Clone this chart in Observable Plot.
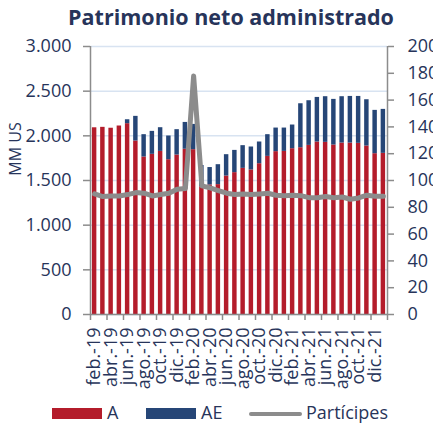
<!DOCTYPE html>
<html><head><meta charset="utf-8">
<script src="https://cdn.jsdelivr.net/npm/d3@7"></script>
<script src="https://cdn.jsdelivr.net/npm/@observablehq/plot@0.6"></script>
<style>
body{margin:0;background:#fff;font-family:"Open Sans",sans-serif;color:#27345a;}
#wrap{position:relative;width:433px;height:427px;overflow:hidden;}
#chart{position:absolute;left:0;top:0;}
#title{position:absolute;left:0;width:462px;top:6px;text-align:center;font-weight:700;font-size:21.5px;line-height:1;white-space:nowrap;}
#ylab{position:absolute;left:-15px;top:141px;width:60px;text-align:center;font-size:16px;line-height:16px;transform:rotate(-90deg);white-space:nowrap;}
.lg{position:absolute;}
.lt{position:absolute;font-size:18px;line-height:1;top:403px;white-space:nowrap;}
</style></head>
<body><div id="wrap"><div id="chart"></div>
<div id="title">Patrimonio neto administrado</div>
<div id="ylab">MM US</div>
<div class="lg" style="left:52px;top:408px;width:50px;height:11px;background:#b41c2b"></div>
<div class="lt" style="left:107px">A</div>
<div class="lg" style="left:146px;top:408px;width:50px;height:11px;background:#264677"></div>
<div class="lt" style="left:201px">AE</div>
<div class="lg" style="left:249px;top:411.5px;width:53px;height:4.5px;border-radius:2.5px;background:#8c8c8c"></div>
<div class="lt" style="left:306px">Partícipes</div>
</div>
<script>
const months = ["feb.-19","mar.-19","abr.-19","may.-19","jun.-19","jul.-19","ago.-19","sep.-19","oct.-19","nov.-19","dic.-19",
"ene.-20","feb.-20","mar.-20","abr.-20","may.-20","jun.-20","jul.-20","ago.-20","sep.-20","oct.-20","nov.-20","dic.-20",
"ene.-21","feb.-21","mar.-21","abr.-21","may.-21","jun.-21","jul.-21","ago.-21","sep.-21","oct.-21","nov.-21","dic.-21","ene.-22"];
const serieA = [2090,2095,2085,2110,2136,1942,1763,1793,1826,1733,1785,
1850,1845,1430,1450,1454,1550,1588,1636,1618,1688,1770,1823,
1826,1856,1867,1893,1931,1927,1897,1919,1919,1916,1886,1800,1804];
const serieAE = [0,0,0,0,44,276,250,257,265,265,284,
300,283,238,195,223,239,249,254,257,243,243,264,
261,265,492,500,499,511,511,519,522,525,518,485,492];
const participes = [90,88,88.5,88.5,89.5,91,90.5,88.5,89.5,90.5,93.5,
94,178,96,94.5,92.5,90.5,89.5,90,89.5,90,90.5,89,
88.7,89,88.7,87.2,87.2,88,87.2,87.7,86,87,89,88.2,88.2];
const leftTicks = [0,500,1000,1500,2000,2500,3000];
const rightTicks = [0,20,40,60,80,100,120,140,160,180,200];
const rightFactor = 3000/200;

const rows = months.map((m,i)=>({i, m, a: serieA[i], ae: serieAE[i], p: participes[i]}));
const labelIdx = months.map((m,i)=>i).filter(i=>i%2===0 && i<months.length-1);
const tickIdx = d3.range(0, months.length+1, 2).map(i=>i-0.5);
const loc = d3.formatLocale({thousands:".", grouping:[3], decimal:",", currency:["",""]});
const fmt = loc.format(",");
const axisCol = "#8c8c8c";
const hw = 0.27;

const chart = Plot.plot({
  width:433, height:427,
  marginTop:46, marginBottom:113, marginLeft:90, marginRight:46,
  x:{type:"linear", domain:[-0.5, months.length-0.5], axis:null},
  y:{domain:[0,3000], axis:null},
  style:{fontFamily:"Open Sans", fontSize:"18px", color:"#27345a", background:"transparent", overflow:"visible"},
  marks:[
    Plot.gridY(leftTicks, {stroke:"#d8e3f1", strokeOpacity:1, strokeWidth:1.5}),
    Plot.rectY(rows, {x1:d=>d.i-hw, x2:d=>d.i+hw, y1:0, y2:"a", fill:"#b41c2b"}),
    Plot.rectY(rows, {x1:d=>d.i-hw, x2:d=>d.i+hw, y1:"a", y2:d=>d.a+d.ae, fill:"#264677"}),
    Plot.line(rows, {x:"i", y:d=>d.p*rightFactor, stroke:"#8c8c8c", strokeWidth:5, strokeLinejoin:"round"}),
    Plot.ruleX([-0.5, months.length-0.5], {stroke:axisCol, strokeWidth:1.5}),
    Plot.ruleY([0], {stroke:axisCol, strokeWidth:1.5}),
    Plot.axisY(leftTicks, {anchor:"left", tickFormat:fmt, tickSize:7, tickPadding:12, stroke:axisCol, strokeWidth:1.5, label:null}),
    Plot.axisY(rightTicks.map(v=>v*rightFactor), {anchor:"right", tickFormat:d=>String(Math.round(d/rightFactor)), tickSize:6, tickPadding:14, stroke:axisCol, strokeWidth:1.5, label:null}),
    Plot.axisX(tickIdx, {tickSize:6, tickFormat:()=>"", stroke:axisCol, strokeWidth:1.5, label:null}),
    Plot.axisX(labelIdx, {tickSize:0, tickPadding:13, tickRotate:-90, tickFormat:i=>months[i], label:null})
  ]
});
document.getElementById("chart").appendChild(chart);
</script>
</body></html>
